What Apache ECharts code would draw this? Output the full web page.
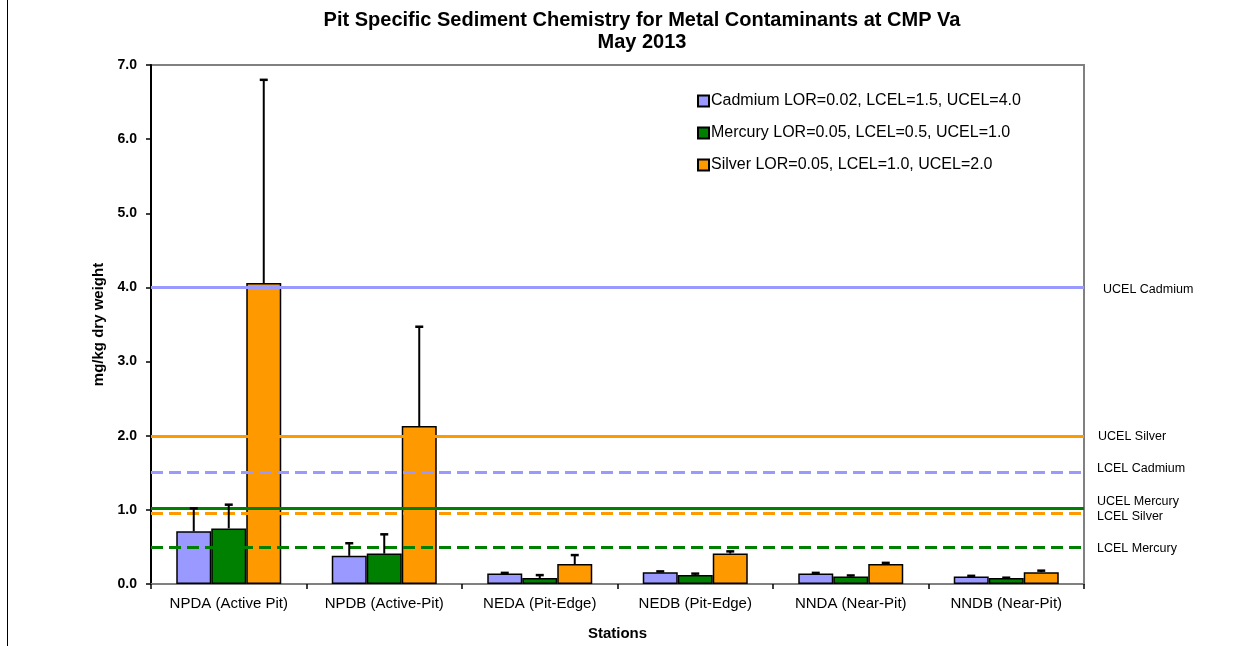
<!DOCTYPE html>
<html><head><meta charset="utf-8">
<script src="https://cdn.jsdelivr.net/npm/echarts@6/dist/echarts.min.js"></script>
<style>html,body{margin:0;padding:0;background:#fff}#c{width:1241px;height:646px}</style>
</head><body><div id="c"></div>
<script>
const categories = ['NPDA (Active Pit)','NPDB (Active-Pit)','NEDA (Pit-Edge)','NEDB (Pit-Edge)','NNDA (Near-Pit)','NNDB (Near-Pit)'];
const seriesNames = ['Cadmium LOR=0.02, LCEL=1.5, UCEL=4.0','Mercury LOR=0.05, LCEL=0.5, UCEL=1.0','Silver LOR=0.05, LCEL=1.0, UCEL=2.0'];
const cadmium = [0.71, 0.38, 0.14, 0.16, 0.14, 0.10];
const mercury = [0.75, 0.41, 0.08, 0.12, 0.10, 0.08];
const silver  = [4.06, 2.13, 0.27, 0.41, 0.27, 0.16];
const cadmiumErr = [0.31, 0.17, 0.01, 0.01, 0.01, 0.01];
const mercuryErr = [0.32, 0.26, 0.04, 0.02, 0.015, 0.005];
const silverErr  = [2.74, 1.34, 0.12, 0.03, 0.015, 0.02];
const refNames  = ['UCEL Cadmium','UCEL Silver','LCEL Cadmium','UCEL Mercury','LCEL Silver','LCEL Mercury'];
const refValues = [4.0, 1.99, 1.51, 1.02, 0.96, 0.50];
const yTicks = [0,1,2,3,4,5,6,7];

const FONT = 'Arial, "Liberation Sans", sans-serif';
const colors = ['#9999FF','#008000','#FF9900'];
const BW = 35;
const refStyles = [
  {color:'#9999FF', type:'solid', dx:6, dy:2},
  {color:'#FF9900', type:'solid', dx:1, dy:0},
  {color:'#9999FF', type:'dashed', dx:0, dy:-3},
  {color:'#008000', type:'solid', dx:0, dy:-7},
  {color:'#FF9900', type:'dashed', dx:0, dy:4},
  {color:'#008000', type:'dashed', dx:0, dy:2}
];

const chart = echarts.init(document.getElementById('c'));
const values = [cadmium, mercury, silver];
const errs = [cadmiumErr, mercuryErr, silverErr];

const barSeries = values.map((v, i) => ({
  name: seriesNames[i], type: 'bar', data: v, barWidth: BW, barGap: '0%',
  itemStyle: {color: colors[i], borderColor: '#000', borderWidth: 1.5},
  z: 2
}));
barSeries[0].markLine = {
  silent: true, symbol: 'none', z: 5,
  data: refValues.map((val, k) => ({
    yAxis: val,
    lineStyle: {color: refStyles[k].color, type: refStyles[k].type, width: 3},
    label: {show: true, position: 'end', formatter: refNames[k], color: '#000',
            fontFamily: FONT, fontSize: 12.5, distance: 13, offset: [refStyles[k].dx, refStyles[k].dy]}
  }))
};
const errSeries = errs.map((e, i) => ({
  type: 'custom', z: 6, silent: true,
  data: values[i].map((v, j) => [j, v, e[j]]),
  renderItem: function (params, api) {
    const x = api.value(0), y = api.value(1), er = api.value(2);
    const off = (i - 1) * BW;
    const p0 = api.coord([x, y]);
    const p1 = api.coord([x, y + er]);
    const cx = p0[0] + off;
    return {type: 'group', children: [
      {type: 'line', shape: {x1: cx, y1: p0[1], x2: cx, y2: p1[1]}, style: {stroke: '#000', lineWidth: 2}},
      {type: 'line', shape: {x1: cx - 4, y1: p1[1], x2: cx + 4, y2: p1[1]}, style: {stroke: '#000', lineWidth: 2.5}}
    ]};
  }
}));

chart.setOption({
  animation: false,
  backgroundColor: '#fff',
  title: {
    text: 'Pit Specific Sediment Chemistry for Metal Contaminants at CMP Va\nMay 2013',
    left: 637, top: 4, textAlign: 'center',
    textStyle: {fontFamily: FONT, fontWeight: 'bold', fontSize: 20, lineHeight: 22, color: '#000'}
  },
  legend: {
    orient: 'vertical', left: 692, top: 87, itemGap: 14, itemWidth: 11, itemHeight: 11,
    icon: 'rect', data: seriesNames,
    textStyle: {fontFamily: FONT, fontSize: 16, lineHeight: 18, color: '#000', padding: [0,0,0,-3]}
  },
  grid: {left: 151, right: 157, top: 65, bottom: 62, show: true, borderColor: '#808080', borderWidth: 2, backgroundColor: 'transparent'},
  xAxis: {
    type: 'category', data: categories,
    name: 'Stations', nameLocation: 'middle', nameGap: 42,
    nameTextStyle: {fontFamily: FONT, fontWeight: 'bold', fontSize: 15, color: '#000'},
    axisLine: {lineStyle: {color: '#808080', width: 2}},
    axisTick: {show: true, length: 5, lineStyle: {color: '#000', width: 1.5}},
    axisLabel: {fontFamily: FONT, fontSize: 15, color: '#000', margin: 12}
  },
  yAxis: {
    type: 'value', min: yTicks[0], max: yTicks[yTicks.length - 1], interval: 1,
    name: 'mg/kg dry weight', nameLocation: 'middle', nameGap: 45,
    nameTextStyle: {fontFamily: FONT, fontWeight: 'bold', fontSize: 15, color: '#000'},
    axisLine: {show: true, lineStyle: {color: '#000', width: 2}},
    axisTick: {show: true, length: 5, lineStyle: {color: '#000', width: 1.5}},
    axisLabel: {fontFamily: FONT, fontWeight: 'bold', fontSize: 14, color: '#000', margin: 14,
                formatter: v => v.toFixed(1)},
    splitLine: {show: false}
  },
  graphic: [{type: 'line', shape: {x1: 7.5, y1: 0, x2: 7.5, y2: 646}, style: {stroke: '#000', lineWidth: 1}}],
  series: barSeries.concat(errSeries)
});
</script></body></html>
